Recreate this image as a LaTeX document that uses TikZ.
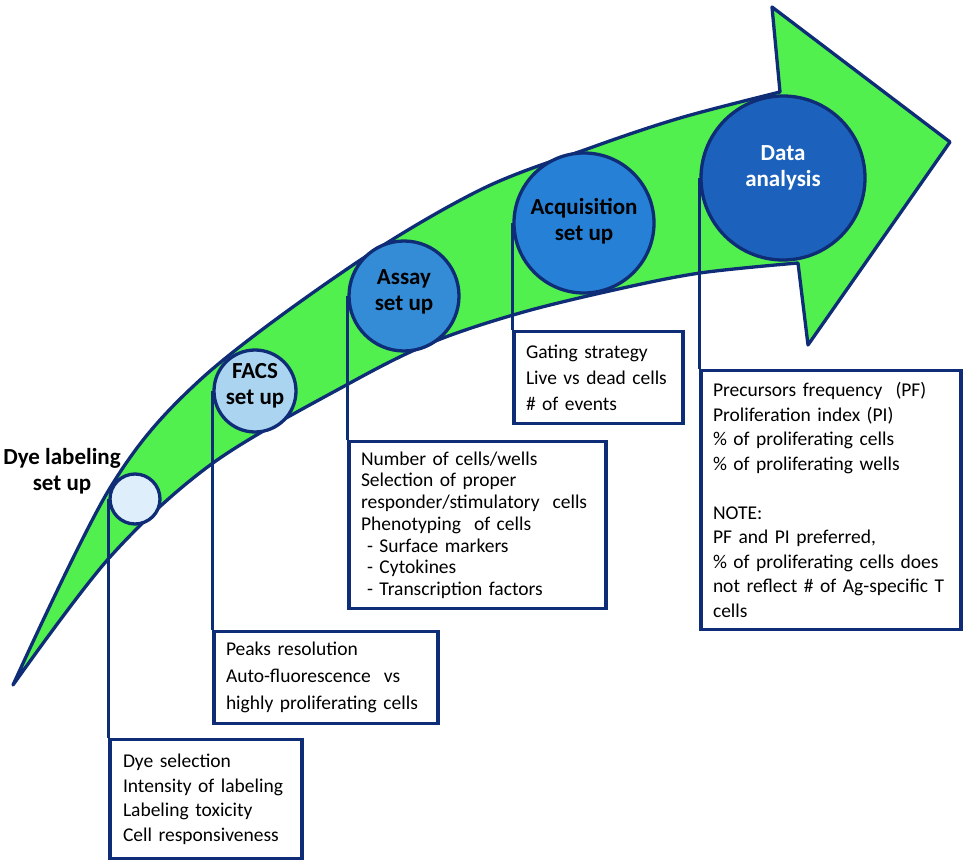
\documentclass[tikz,border=0pt]{standalone}
\usepackage{fontspec}
\setmainfont{Carlito}
\definecolor{navy}{RGB}{15,44,118}
\definecolor{arrowgreen}{RGB}{82,240,78}
\definecolor{dyefill}{RGB}{222,238,250}
\definecolor{facsfill}{RGB}{170,212,240}
\definecolor{assayfill}{RGB}{52,140,215}
\definecolor{acqfill}{RGB}{38,128,214}
\definecolor{datafill}{RGB}{28,98,188}
\begin{document}
\begin{tikzpicture}[x=1pt,y=-1pt,
  outline/.style={draw=navy, line width=3.3pt, line join=round},
  stage/.style={circle, draw=navy, line width=3.3pt, inner sep=0pt},
  info/.style={draw=navy, line width=3.3pt, fill=white, anchor=north west, align=left,
    inner xsep=12pt, inner ysep=0pt, font=\fontsize{19.5}{24.5}\selectfont},
  blabel/.style={font=\bfseries\fontsize{23}{25.5}\selectfont, align=center, inner sep=0pt},
  link/.style={draw=navy, line width=3.3pt}
]
\useasboundingbox (0,0) rectangle (967,861);
% the curved arrow
\path[outline, fill=arrowgreen]
  plot[smooth, tension=0.55] coordinates {(13,685) (110,488) (200,380) (350,267) (480,190) (590,148) (680,118) (780,92)}
  -- (772,7) -- (950,142) -- (808,345) -- (798,263)
  -- plot[smooth, tension=0.55] coordinates {(798,263) (700,273) (614,290) (520,313) (433,342) (350,383) (213,463) (110,557) (13,685)}
  -- cycle;
% stage circles
\node[stage, fill=dyefill, minimum size=50pt] (c1) at (135,499) {};
\node[stage, fill=facsfill, minimum size=82pt] (c2) at (255,391) {};
\node[stage, fill=assayfill, minimum size=110pt] (c3) at (404,296) {};
\node[stage, fill=acqfill, minimum size=140pt] (c4) at (584,223) {};
\node[stage, fill=datafill, minimum size=164pt] (c5) at (783,178) {};
% labels
\node[blabel] (l1) at (62,471) {Dye labeling\\set up};
\node[blabel] (l2) at (255,386) {FACS\\set up};
\node[blabel] (l3) at (404,292) {Assay\\set up};
\node[blabel] (l4) at (584,221) {Acquisition\\set up};
\node[blabel, text=white] (l5) at (783,168) {Data\\analysis};
% info boxes
\node[info, text width=166pt, minimum height=119pt, inner xsep=13pt] (b1) at (c1.west |- 0,738)
  {Dye selection\\Intensity of labeling\\Labeling toxicity\\Cell responsiveness};
\node[info, text width=200pt, minimum height=92pt, font=\fontsize{19.5}{27}\selectfont] (b2) at (c2.west |- 0,630)
  {Peaks resolution\\Auto-fluorescence\ \ vs\\highly proliferating cells};
\node[info, text width=233pt, minimum height=167pt, font=\fontsize{19.5}{21.7}\selectfont] (b3) at (c3.west |- 0,440)
  {Number of cells/wells\\Selection of proper\\responder/stimulatory\ \ cells\\Phenotyping\ \ of cells\\
   \hspace*{6pt}- Surface markers\\\hspace*{6pt}- Cytokines\\\hspace*{6pt}- Transcription factors};
\node[info, text width=145pt, minimum height=92pt, font=\fontsize{19.5}{26}\selectfont] (b4) at (c4.west |- 0,330)
  {Gating strategy\\Live vs dead cells\\\# of events};
\node[info, text width=236pt, minimum height=259pt] (b5) at (c5.west |- 0,369)
  {Precursors frequency\ \ (PF)\\Proliferation index (PI)\\\% of proliferating cells\\\% of proliferating wells\\[24.5pt]
   NOTE:\\PF and PI preferred,\\\% of proliferating cells does\\not reflect \# of Ag-specific T\\cells};
% connectors
\draw[link] (c1.west) -- (b1.north west);
\draw[link] (c2.west) -- (b2.north west);
\draw[link] (c3.west) -- (b3.north west);
\draw[link] (c4.west) -- (b4.north west);
\draw[link] (c5.west) -- (b5.north west);
\end{tikzpicture}
\end{document}
